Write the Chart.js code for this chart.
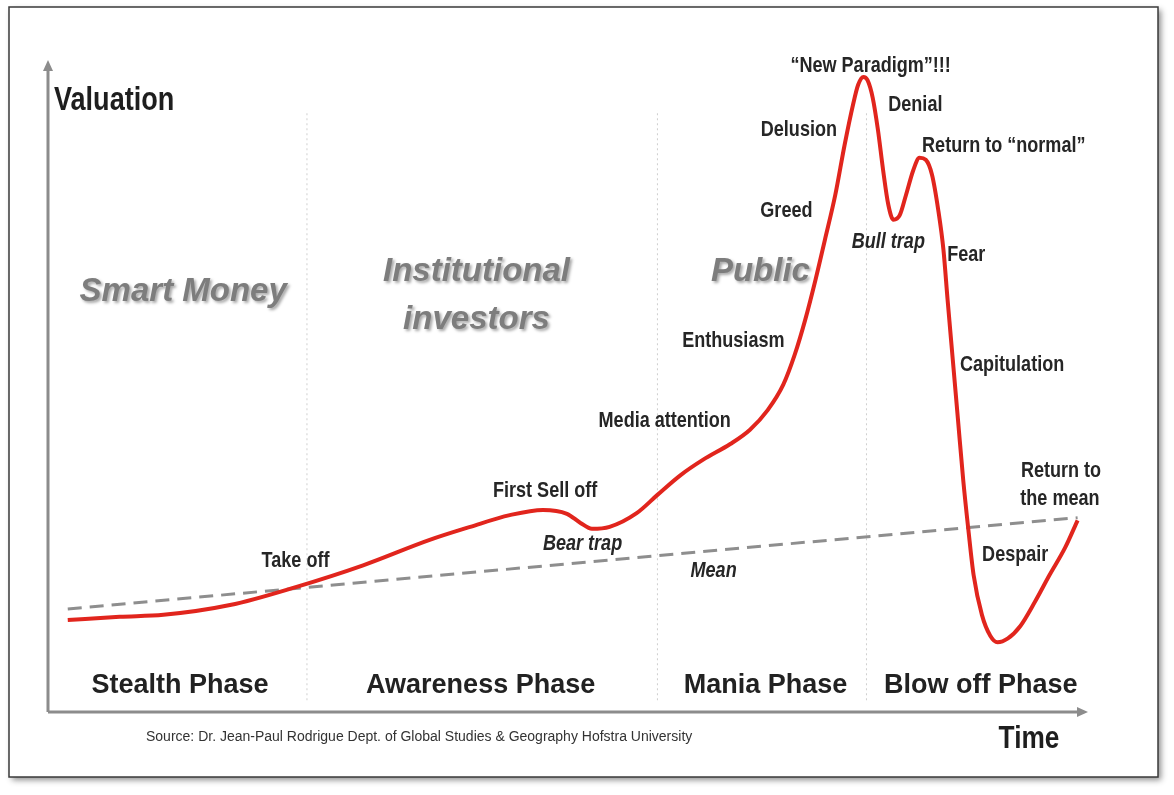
<!DOCTYPE html>
<html>
<head>
<meta charset="utf-8">
<script src="https://cdn.jsdelivr.net/npm/chart.js@4.4.0/dist/chart.umd.min.js"></script>
<style>
  html, body { margin: 0; padding: 0; background: #fff; }
  #wrap { width: 1174px; height: 795px; }
</style>
</head>
<body>
<div id="wrap"><canvas id="bubbleChart" width="1174" height="795"></canvas></div>
<script>
// Market bubble stages - valuation over time (0-100 on both axes)
const timeVals = [1.9, 6.9, 11.1, 17.5, 23.9, 30.3, 36.7, 40.6, 44.4, 47.6, 49.9, 51.2, 52.3, 54.0, 56.6,
  58.6, 60.8, 63.0, 65.6, 67.5, 69.2, 70.7, 71.8, 72.8, 73.8, 74.7, 75.7, 76.6, 77.4, 77.9, 78.4, 78.8,
  79.3, 79.8, 80.3, 80.8, 81.3, 81.9, 82.5, 83.2, 83.8, 84.4, 85.0, 85.6, 86.1, 86.5, 87.0, 87.5, 88.0,
  88.5, 89.0, 89.8, 90.6, 91.3, 92.3, 93.5, 94.9, 96.3, 97.8, 99.0];
const valuationVals = [14.1, 14.6, 14.9, 16.4, 19.2, 22.5, 26.4, 28.4, 30.2, 31.0, 30.4, 29.0, 28.1, 28.4, 30.5,
  33.3, 36.3, 38.7, 41.1, 43.3, 46.3, 50.2, 54.8, 60.1, 66.3, 72.4, 79.3, 87.0, 93.1, 96.2, 97.4, 96.9,
  94.2, 89.3, 83.1, 77.8, 75.5, 76.2, 79.3, 83.1, 85.0, 84.7, 82.4, 77.0, 70.9, 63.2, 54.0, 44.8, 35.6,
  27.9, 21.0, 14.9, 11.7, 10.7, 11.3, 13.2, 16.9, 21.0, 25.2, 29.4];

const meanTime = [1.9, 99.0];
const meanVals = [15.8, 29.8];

const phaseBounds = [24.9, 58.6, 78.7];
const phaseSpan = [1.8, 92.3];
const phaseNames = ['Stealth Phase', 'Awareness Phase', 'Mania Phase', 'Blow off Phase'];
const phaseCenters = [12.7, 41.6, 69.0, 89.7];

const groupNames = ['Smart Money', 'Institutional', 'investors', 'Public'];
const groupTime = [13.0, 41.2, 41.2, 68.5];
const groupVals = [64.4, 67.5, 60.1, 67.5];

const stageNames = ['Take off', 'First Sell off', 'Media attention', 'Enthusiasm', 'Greed', 'Delusion',
  '\u201cNew Paradigm\u201d!!!', 'Denial', 'Return to \u201cnormal\u201d', 'Fear', 'Capitulation',
  'Return to', 'the mean', 'Despair'];
const stageTime = [23.8, 47.8, 59.3, 65.9, 71.0, 72.2, 79.1, 83.4, 91.9, 88.3, 92.7, 97.4, 97.3, 93.0];
const stageVals = [23.2, 33.9, 44.6, 56.9, 76.8, 89.3, 99.1, 93.1, 86.8, 70.1, 53.2, 37.0, 32.7, 24.1];

const trapNames = ['Bear trap', 'Bull trap', 'Mean'];
const trapTime = [51.4, 80.8, 64.0];
const trapVals = [25.8, 72.1, 21.6];

const FONT = "'Liberation Sans', Arial, sans-serif";

// Arial Narrow look-alike: squeeze Liberation Sans horizontally
function narrowText(ctx, text, x, y, font) {
  ctx.save();
  ctx.font = font;
  ctx.translate(x, y);
  ctx.scale(0.82, 1);
  ctx.fillText(text, 0, 0);
  ctx.restore();
}

const decor = {
  id: 'decor',
  beforeDraw(chart) {
    const ctx = chart.ctx;
    ctx.save();
    ctx.fillStyle = '#fff';
    ctx.fillRect(0, 0, chart.width, chart.height);
    ctx.shadowColor = 'rgba(0,0,0,0.45)';
    ctx.shadowBlur = 6;
    ctx.shadowOffsetX = 3;
    ctx.shadowOffsetY = 3;
    ctx.fillRect(9, 7, 1149, 770);
    ctx.restore();
    ctx.save();
    ctx.strokeStyle = '#3a3a3a';
    ctx.lineWidth = 1.5;
    ctx.strokeRect(9, 7, 1149, 770);
    ctx.restore();
  },
  afterDatasetsDraw(chart) {
    const ctx = chart.ctx, a = chart.chartArea;
    const xs = chart.scales.x, ys = chart.scales.y;
    ctx.save();
    // axes with arrow heads
    ctx.strokeStyle = '#8c8c8c';
    ctx.fillStyle = '#8c8c8c';
    ctx.lineWidth = 3;
    ctx.beginPath();
    ctx.moveTo(a.left, a.bottom);
    ctx.lineTo(a.left, a.top + 8);
    ctx.moveTo(a.left, a.bottom);
    ctx.lineTo(a.right - 8, a.bottom);
    ctx.stroke();
    ctx.beginPath();
    ctx.moveTo(a.left, a.top);
    ctx.lineTo(a.left - 5, a.top + 11);
    ctx.lineTo(a.left + 5, a.top + 11);
    ctx.closePath();
    ctx.fill();
    ctx.beginPath();
    ctx.moveTo(a.right, a.bottom);
    ctx.lineTo(a.right - 11, a.bottom - 5);
    ctx.lineTo(a.right - 11, a.bottom + 5);
    ctx.closePath();
    ctx.fill();

    ctx.textBaseline = 'middle';
    ctx.fillStyle = '#1e1e1e';
    ctx.textAlign = 'left';
    narrowText(ctx, 'Valuation', a.left + 6, 101, 'bold 33px ' + FONT);
    ctx.textAlign = 'center';
    narrowText(ctx, 'Time', 1029, 739, 'bold 32px ' + FONT);
    ctx.textAlign = 'left';
    ctx.fillStyle = '#333';
    ctx.font = '14px ' + FONT;
    ctx.fillText('Source: Dr. Jean-Paul Rodrigue Dept. of Global Studies & Geography Hofstra University', 146, 737);

    // phase names along the bottom
    ctx.textAlign = 'center';
    ctx.fillStyle = '#222';
    ctx.font = 'bold 27px ' + FONT;
    phaseNames.forEach((t, i) => ctx.fillText(t, xs.getPixelForValue(phaseCenters[i]), ys.getPixelForValue(4.0)));

    // investor groups, grey with soft shadow
    ctx.save();
    ctx.fillStyle = '#7d7d7d';
    ctx.shadowColor = 'rgba(0,0,0,0.35)';
    ctx.shadowBlur = 3;
    ctx.shadowOffsetX = 2;
    ctx.shadowOffsetY = 2;
    ctx.font = 'italic bold 33px ' + FONT;
    groupNames.forEach((t, i) => ctx.fillText(t, xs.getPixelForValue(groupTime[i]), ys.getPixelForValue(groupVals[i])));
    ctx.restore();

    // stage annotations
    ctx.fillStyle = '#262626';
    stageNames.forEach((t, i) => narrowText(ctx, t, xs.getPixelForValue(stageTime[i]), ys.getPixelForValue(stageVals[i]), 'bold 22px ' + FONT));
    trapNames.forEach((t, i) => narrowText(ctx, t, xs.getPixelForValue(trapTime[i]), ys.getPixelForValue(trapVals[i]), 'italic bold 22px ' + FONT));
    ctx.restore();
  }
};

const dividerSets = phaseBounds.map(b => ({
  data: phaseSpan.map(v => ({ x: b, y: v })),
  borderColor: '#cfcfcf', borderWidth: 1, borderDash: [2, 3], pointRadius: 0, order: 3
}));

new Chart(document.getElementById('bubbleChart'), {
  type: 'line',
  data: {
    datasets: [
      {
        label: 'Valuation',
        data: timeVals.map((t, i) => ({ x: t, y: valuationVals[i] })),
        borderColor: '#e1251d', borderWidth: 4, pointRadius: 0,
        cubicInterpolationMode: 'monotone', order: 1
      },
      {
        label: 'Mean',
        data: meanTime.map((t, i) => ({ x: t, y: meanVals[i] })),
        borderColor: '#8e8e8e', borderWidth: 3, borderDash: [14, 8], pointRadius: 0, order: 2
      },
      ...dividerSets
    ]
  },
  options: {
    responsive: false,
    devicePixelRatio: 1,
    animation: false,
    layout: { padding: { left: 48, top: 60, right: 86, bottom: 83 } },
    scales: {
      x: { type: 'linear', min: 0, max: 100, display: false },
      y: { type: 'linear', min: 0, max: 100, display: false }
    },
    plugins: { legend: { display: false }, tooltip: { enabled: false } }
  },
  plugins: [decor]
});
</script>
</body>
</html>
